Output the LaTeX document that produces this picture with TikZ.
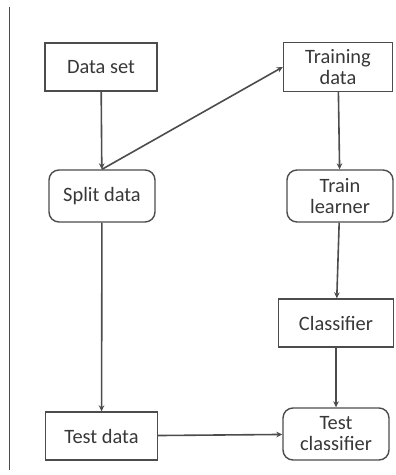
\documentclass[tikz,border=0pt]{standalone}
\usepackage{fontspec}
\setmainfont{Carlito}
\usepackage{xcolor}
\usetikzlibrary{arrows.meta,positioning,calc}
\definecolor{box-grey}{rgb}{0.3, 0.3, 0.3}
\definecolor{text-grey}{rgb}{0.22, 0.22, 0.22}

\begin{document}
\begin{tikzpicture}[x=0.5pt, y=-0.5pt, step box/.style = {shape=rectangle,
          draw=box-grey, line width=0.7pt, fill=white, align=center,
          text=text-grey, font=\fontsize{10.2}{10.5}\selectfont,
          minimum height=24pt, minimum width=56pt}, round box/.style =
        {step box, rounded corners=5pt, minimum height=26pt,
          minimum width=53pt}, flow/.style={-{Stealth[length=3pt,width=2.8pt]},
          draw=box-grey, line width=0.8pt}]

        \useasboundingbox (0,0) rectangle (395,475);
        \draw[draw=box-grey, line width=0.7pt] (9.5,7) -- (9.5,470);

        \node [step box] (dataset) at (101,67) {Data set};
        \node [round box] (split) at (102,196) {Split data};
        \node [step box, minimum width=54.5pt] (training) at (338,67) {Training\\data};
        \node [round box] (learner) at (340,196) {Train\\learner};
        \node [step box, minimum width=57.5pt] (classifier) at (336,323) {Classifier};
        \node [step box] (testdata) at (101.5,436) {Test data};
        \node [round box] (testclf) at (336,434) {Test\\classifier};

        \draw[flow] (dataset) -- (split);
        \draw[flow] (split.north) -- (training.west);
        \draw[flow] (split) -- (testdata);
        \draw[flow] (training) -- (learner);
        \draw[flow] (learner) -- (classifier);
        \draw[flow] (classifier) -- (testclf);
        \draw[flow] (testdata) -- (testclf);
      \end{tikzpicture}
\end{document}
